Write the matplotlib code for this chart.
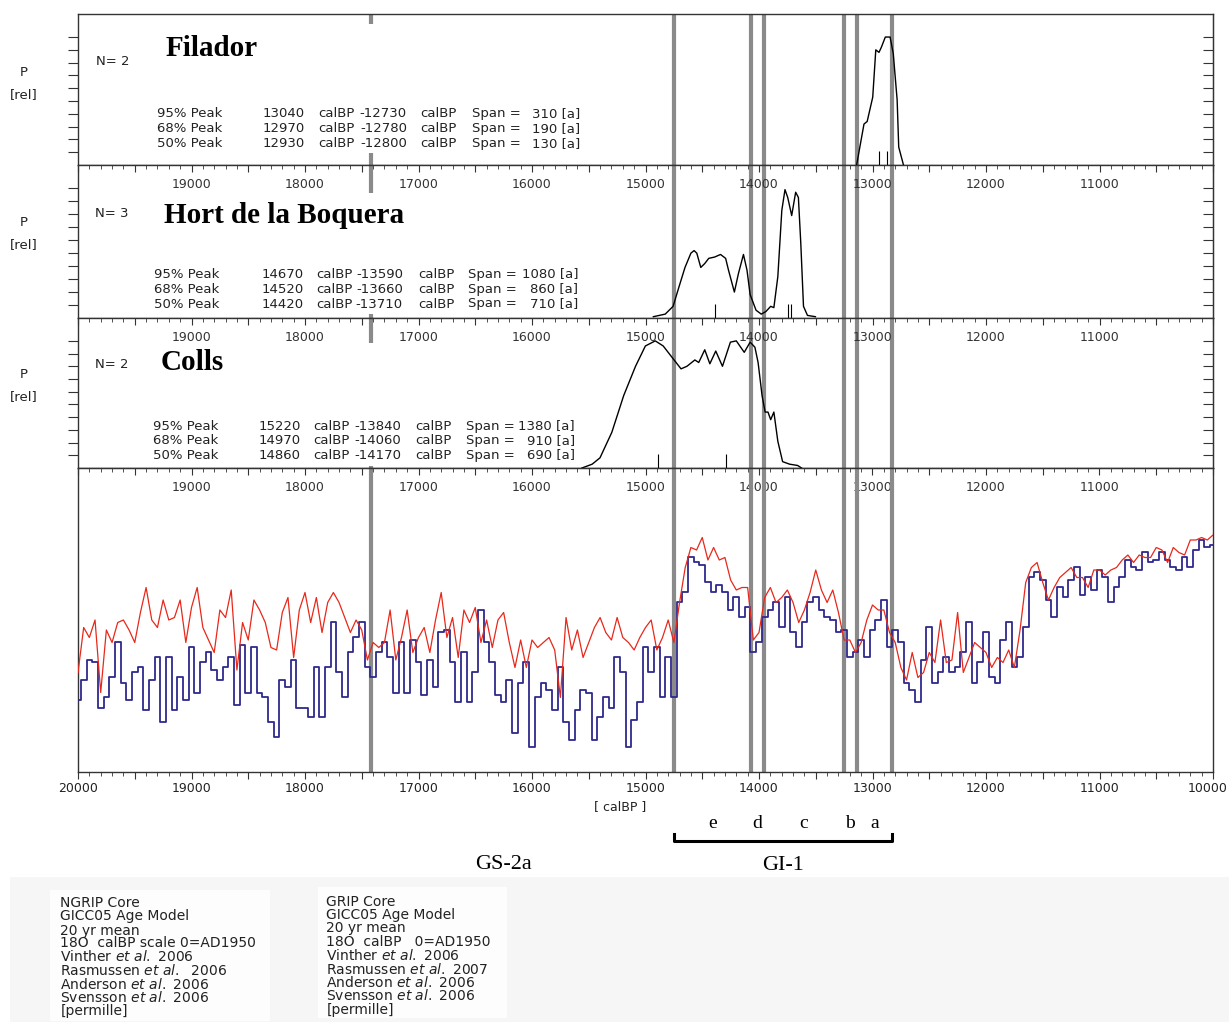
import numpy as np
import matplotlib
matplotlib.use("Agg")
import matplotlib.pyplot as plt
from matplotlib.ticker import MultipleLocator, FuncFormatter
from matplotlib.patches import Rectangle

plt.rcParams['font.family'] = ['DejaVu Sans']
plt.rcParams['mathtext.fontset'] = 'dejavusans'

# event boundaries [calBP] (grey lines) and GI-1 sub-events
event_years = [17420, 14750, 14070, 13960, 13255, 13140, 12825]
gi1_letters = ["e", "d", "c", "b", "a"]

# summed calibrated probability curves
filador_years = [13140, 13075, 13047, 12998, 12971, 12943, 12922, 12887, 12845, 12817, 12783, 12769, 12727]
filador_p = [0.0, 0.32, 0.34, 0.53, 0.90, 0.88, 0.92, 1.0, 1.0, 0.87, 0.51, 0.14, 0.0]
filador_dates = [12943, 12873]

boq_years = [14931, 14826, 14757, 14705, 14652, 14600, 14572, 14548, 14513, 14478, 14443, 14391,
             14339, 14294, 14269, 14217, 14182, 14137, 14106, 14078, 14026, 13980, 13939, 13897,
             13869, 13834, 13799, 13771, 13747, 13712, 13677, 13653, 13632, 13608, 13573, 13503]
boq_p = [0.01, 0.03, 0.09, 0.24, 0.39, 0.50, 0.52, 0.50, 0.39, 0.42, 0.46, 0.47,
         0.49, 0.46, 0.37, 0.20, 0.34, 0.49, 0.37, 0.18, 0.06, 0.03, 0.05, 0.09,
         0.08, 0.32, 0.83, 0.99, 0.93, 0.79, 0.97, 0.93, 0.58, 0.09, 0.02, 0.01]
boq_dates = [14391, 13747, 13719]

colls_years = [15560, 15470, 15401, 15297, 15192, 15088, 15001, 14914, 14844, 14757, 14687, 14635,
               14565, 14531, 14478, 14433, 14381, 14322, 14252, 14200, 14130, 14078, 14036, 14008,
               13973, 13946, 13921, 13897, 13869, 13834, 13792, 13730, 13660, 13625]
colls_p = [0.0, 0.03, 0.08, 0.28, 0.57, 0.80, 0.96, 1.0, 0.96, 0.86, 0.78, 0.80,
           0.85, 0.83, 0.93, 0.82, 0.92, 0.80, 0.99, 1.0, 0.91, 0.99, 0.95, 0.83,
           0.57, 0.44, 0.44, 0.38, 0.44, 0.21, 0.05, 0.03, 0.02, 0.0]
colls_dates = [14886, 14294]

peak_levels = ["95%", "68%", "50%"]
filador_from = [13040, 12970, 12930]
filador_to = [12730, 12780, 12800]
filador_span = [310, 190, 130]
boq_from = [14670, 14520, 14420]
boq_to = [13590, 13660, 13710]
boq_span = [1080, 860, 710]
colls_from = [15220, 14970, 14860]
colls_to = [13840, 14060, 14170]
colls_span = [1380, 910, 690]

# ice core d18O, 50 yr steps from 20000 to 10000 calBP
years = np.arange(20000, 9999, -50)
ngrip_d18o = [
    -41.9, -41.1, -40.3, -40.4, -42.2, -41.8, -41.0, -39.6, -41.2, -41.9,
    -40.8, -40.6, -42.3, -41.1, -40.2, -42.8, -40.2, -42.3, -41.0, -41.9,
    -39.8, -41.6, -40.4, -40.0, -40.7, -41.1, -40.6, -40.2, -42.1, -39.7,
    -41.6, -39.8, -41.6, -41.8, -42.8, -43.4, -41.1, -41.4, -40.3, -42.2,
    -42.2, -42.6, -40.6, -42.6, -40.6, -38.8, -40.8, -41.8, -40.0, -39.4,
    -38.8, -40.6, -41.0, -40.0, -39.6, -40.2, -41.6, -39.6, -41.6, -39.5,
    -40.4, -41.7, -40.3, -41.4, -39.2, -39.1, -40.4, -42.0, -40.0, -42.0,
    -40.8, -38.3, -39.6, -40.4, -41.7, -42.0, -41.1, -43.2, -41.2, -40.4,
    -43.8, -41.8, -41.2, -41.5, -42.3, -40.6, -42.8, -43.5, -42.3, -41.5,
    -41.6, -43.5, -42.6, -41.8, -42.2, -40.2, -40.8, -43.8, -42.7, -42.0,
    -39.8,
    -40.8, -39.8, -41.8, -40.2, -41.8, -38.0, -37.6, -36.2, -36.4, -36.5,
    -37.2, -37.6, -37.3, -37.6, -38.3, -37.8, -38.6, -38.2, -40.0, -39.6,
    -38.6, -38.3, -38.0, -39.0, -37.8, -39.2, -39.8, -38.8, -38.0, -37.8,
    -38.3, -38.6, -38.7, -39.2, -39.1, -40.2, -40.0, -39.5, -40.2, -39.1,
    -38.7, -37.9, -39.8, -39.1, -39.6, -41.2, -41.5, -42.0, -40.3, -39.0,
    -41.2, -40.8, -40.2, -40.8, -40.6, -40.0, -38.8, -41.2, -40.4, -39.2,
    -41.0, -41.2, -39.5, -38.8, -40.6, -40.2, -39.0, -37.0, -36.8, -37.1,
    -37.9, -38.6, -37.4, -37.8, -37.1, -36.6, -37.7, -37.0, -37.5, -36.7,
    -37.0, -38.0, -37.4, -37.0, -36.3, -36.6, -36.7, -36.0, -36.4, -36.3,
    -36.0, -36.3, -36.6, -36.7, -36.2, -36.6, -35.9, -35.5, -35.8, -35.7]
grip_d18o = [
    -40.8, -39.0, -39.4, -38.7, -41.6, -39.1, -39.6, -38.8, -38.7, -39.1,
    -39.6, -38.4, -37.4, -38.7, -39.0, -37.9, -38.7, -38.6, -37.9, -39.6,
    -38.2, -37.4, -39.0, -39.5, -40.0, -38.3, -38.6, -37.5, -40.7, -38.8,
    -39.5, -37.9, -38.3, -38.8, -39.8, -39.9, -38.4, -37.8, -40.2, -38.3,
    -37.6, -38.8, -37.8, -39.2, -38.0, -37.6, -38.0, -38.6, -39.2, -38.7,
    -39.1, -40.3, -39.6, -39.8, -39.6, -38.3, -40.3, -39.4, -38.3, -40.0,
    -39.4, -39.0, -40.0, -38.7, -37.6, -39.4, -38.6, -40.2, -38.3, -38.8,
    -38.2, -39.6, -38.7, -39.8, -38.7, -38.4, -39.6, -40.6, -39.5, -40.6,
    -39.5, -39.8, -39.6, -39.4, -39.9, -41.8, -38.6, -39.9, -39.1, -40.2,
    -39.6, -39.0, -38.6, -39.2, -39.5, -38.6, -39.4, -39.6, -39.9, -39.4,
    -39.0,
    -38.7, -39.9, -39.4, -38.7, -39.6, -38.0, -36.6, -35.8, -35.9, -35.4,
    -36.3, -35.8, -36.3, -36.2, -37.1, -37.5, -37.4, -37.4, -39.5, -39.2,
    -37.8, -37.4, -38.0, -37.8, -37.5, -38.0, -38.8, -38.3, -37.6, -36.7,
    -37.5, -38.0, -37.5, -38.4, -39.5, -39.5, -40.0, -39.6, -38.7, -38.1,
    -38.3, -38.3, -39.2, -39.6, -40.6, -41.1, -40.0, -41.0, -40.8, -40.0,
    -40.4, -38.7, -40.4, -40.3, -38.4, -40.8, -40.2, -39.6, -39.8, -40.0,
    -40.6, -40.2, -40.4, -39.9, -40.6, -39.1, -37.2, -36.6, -36.4, -37.2,
    -37.9, -37.4, -37.0, -36.8, -36.6, -37.0, -37.0, -37.4, -36.7, -36.7,
    -36.9, -36.7, -36.6, -36.3, -36.1, -36.4, -36.1, -36.2, -36.2, -35.8,
    -35.9, -36.4, -35.8, -36.0, -36.1, -35.5, -35.5, -35.4, -35.5, -35.3]

ngrip_lines = ["NGRIP Core", "GICC05 Age Model", "20 yr mean", "18O  calBP scale 0=AD1950",
               r"Vinther $\mathit{et\ al.}$ 2006", r"Rasmussen $\mathit{et\ al.}$  2006",
               r"Anderson $\mathit{et\ al.}$ 2006", r"Svensson $\mathit{et\ al.}$ 2006", "[permille]"]
grip_lines = ["GRIP Core", "GICC05 Age Model", "20 yr mean", "18O  calBP   0=AD1950",
              r"Vinther $\mathit{et\ al.}$ 2006", r"Rasmussen $\mathit{et\ al.}$ 2007",
              r"Anderson $\mathit{et\ al.}$ 2006", r"Svensson $\mathit{et\ al.}$ 2006", "[permille]"]

W, H = 1229, 1022
def fx(px):
    return px / W
def fy(py):
    return 1 - py / H

fig = plt.figure(figsize=(W / 100, H / 100), dpi=100)

# light grey strip with the two legend boxes at the bottom
fig.add_artist(Rectangle((fx(10), 0), fx(1219), (H - 877) / H, transform=fig.transFigure,
                         facecolor='#f6f6f6', edgecolor='none', zorder=0))
for x0, y0, x1, y1 in [(50, 890, 270, 1021), (318, 887, 507, 1018)]:
    fig.add_artist(Rectangle((fx(x0), fy(y1)), fx(x1 - x0), (y1 - y0) / H, transform=fig.transFigure,
                             facecolor='#fdfdfd', edgecolor='none', zorder=0.5))

def panel(top, bottom):
    ax = fig.add_axes([fx(78), fy(bottom), fx(1213 - 78), (bottom - top) / H])
    ax.set_xlim(20000, 10000)
    for s in ax.spines.values():
        s.set_color('#333333')
        s.set_linewidth(1.0)
    return ax

inner_fmt = FuncFormatter(lambda v, p: f"{v:.0f}" if (v % 1000 == 0 and 10000 < v < 20000) else "")
full_fmt = FuncFormatter(lambda v, p: f"{v:.0f}" if (v % 1000 == 0 and v > 10000) else "")

ax1 = panel(14, 165)
ax2 = panel(165, 318)
ax3 = panel(318, 468)
ax4 = panel(468, 772)

sites = [
    (ax1, filador_years, filador_p, filador_dates, (0.08, 0.934)),
    (ax2, boq_years, boq_p, boq_dates, (0.026, 0.817)),
    (ax3, colls_years, colls_p, colls_dates, (0.013, 0.833)),
]
for ax, yrs, p, dates, (m0, m1) in sites:
    ax.set_ylim(0, 1.18)
    ax.plot(yrs, p, color='black', lw=1.0, zorder=3)
    ax.vlines(dates, 0, 0.11, color='black', lw=0.8, zorder=3)
    for ey in event_years:
        ax.axvline(ey, color='#8a8a8a', lw=3, zorder=1.5)
    ax.add_patch(Rectangle((0.05, m0), 0.35, m1 - m0, transform=ax.transAxes,
                           facecolor='white', edgecolor='none', zorder=2))
    ax.set_yticks(np.arange(0.1, 1.01, 0.1))
    ax.tick_params(axis='y', left=True, right=False, labelleft=False, direction='out',
                   length=7, color='#333333')
    sec = ax.secondary_yaxis('right')
    sec.set_yticks(np.arange(0.1, 1.01, 0.1))
    sec.tick_params(axis='y', direction='in', length=7, labelright=False, color='#333333')
    sec.spines['right'].set_color('#333333')

ax1.tick_params(axis='x', which='both', bottom=False, top=False, labelbottom=False, labeltop=False)
for ax in (ax2, ax3):
    ax.xaxis.set_major_locator(MultipleLocator(500))
    ax.xaxis.set_minor_locator(MultipleLocator(100))
    ax.xaxis.set_major_formatter(inner_fmt)
    ax.tick_params(axis='x', which='both', bottom=False, top=True, labelbottom=False,
                   labeltop=True, direction='in', color='#333333')
    ax.tick_params(axis='x', which='major', length=5, pad=-19, labelsize=9, labelcolor='#333333')
    ax.tick_params(axis='x', which='minor', length=2.7)

# ice core panel
ax4.set_ylim(-44.78, -32.62)
ax4.set_yticks([])
for ey in event_years:
    ax4.axvline(ey, color='#8a8a8a', lw=3, zorder=1.5)
ax4.plot(years, ngrip_d18o, drawstyle='steps-mid', color='#2e2a8c', lw=1.3, zorder=2.6)
ax4.plot(years, grip_d18o, color='#e8281a', lw=0.9, zorder=2.8)
ax4.xaxis.set_major_locator(MultipleLocator(500))
ax4.xaxis.set_minor_locator(MultipleLocator(100))
ax4.xaxis.set_major_formatter(full_fmt)
ax4.tick_params(axis='x', which='both', bottom=True, top=False, direction='out', color='#333333')
ax4.tick_params(axis='x', which='major', length=5, pad=2, labelsize=9, labelcolor='#222222')
ax4.tick_params(axis='x', which='minor', length=2.7)
top4 = ax4.secondary_xaxis('top')
top4.xaxis.set_major_locator(MultipleLocator(500))
top4.xaxis.set_minor_locator(MultipleLocator(100))
top4.xaxis.set_major_formatter(inner_fmt)
top4.tick_params(axis='x', which='both', direction='in', color='#333333')
top4.tick_params(axis='x', which='major', length=5, pad=-19, labelsize=9, labelcolor='#333333')
top4.tick_params(axis='x', which='minor', length=2.7)
top4.spines['top'].set_color('#333333')

# last tick label sits at the figure edge, so it is right-aligned to stay inside
fig.text(fx(1228), fy(781.5), f"{ax4.get_xlim()[1]:.0f}", ha='right', va='top', fontsize=9,
         color='#222222')

ax4.text(0.478, -0.112, "[ calBP ]", transform=ax4.transAxes, ha='center', va='center', fontsize=9,
         color='#222222')

# GI-1 bracket and sub-event letters
xt = ax4.get_xaxis_transform()
ax4.plot([event_years[1], event_years[1], event_years[-1], event_years[-1]],
         [-0.204, -0.227, -0.227, -0.204], transform=xt, clip_on=False, color='black', lw=2.2)
for i, letter in enumerate(gi1_letters):
    mid = (event_years[i + 1] + event_years[i + 2]) / 2
    ax4.text(mid, -0.171, letter, transform=xt, ha='center', va='center',
             family='Liberation Serif', fontsize=14)
ax4.text((event_years[1] + event_years[-1]) / 2, -0.309, "GI-1", transform=xt, ha='center',
         va='center', family='Liberation Serif', fontsize=16)
ax4.text(16250, -0.303, "GS-2a", transform=xt, ha='center', va='center',
         family='Liberation Serif', fontsize=16)

# panel annotations
def ftext(x, y, s, **kw):
    kw.setdefault('fontsize', 9.5)
    kw.setdefault('color', '#222222')
    fig.text(fx(x), fy(y), s, **kw)

titles = [("Filador", 166, 56, "N= 2", 96, 65), ("Hort de la Boquera", 164, 223, "N= 3", 95, 217),
          ("Colls", 161, 370, "N= 2", 95, 368)]
for name, tx, ty, ntxt, nx, ny in titles:
    ftext(tx, ty, name, family='Liberation Serif', weight='bold', fontsize=21, color='black',
          va='baseline')
    ftext(nx, ny, ntxt, va='baseline')

for py, ry in [(72, 95), (223, 245), (375, 397)]:
    ftext(24, py, "P", ha='center', va='center')
    ftext(24, ry, "[rel]", ha='center', va='center')

def draw_stats(rows, cols, frm, to, span):
    for i in range(3):
        y = rows[i]
        ftext(cols[0], y, f"{peak_levels[i]} Peak", va='baseline')
        ftext(cols[1], y, f"{frm[i]}", va='baseline')
        ftext(cols[2], y, "calBP", va='baseline')
        ftext(cols[3], y, f"-{to[i]}", va='baseline', ha='right')
        ftext(cols[4], y, "calBP", va='baseline')
        ftext(cols[5], y, "Span =", va='baseline')
        ftext(cols[6], y, f"{span[i]} [a]", va='baseline', ha='right')

draw_stats([117, 132, 147], [157, 263, 318, 407, 420, 472, 580], filador_from, filador_to, filador_span)
draw_stats([277.5, 292.5, 307.5], [154, 262, 316, 403, 418, 468, 578], boq_from, boq_to, boq_span)
draw_stats([429.5, 444, 458.5], [153, 259, 313, 401, 415, 466, 575], colls_from, colls_to, colls_span)

# legend text boxes
ngrip_y = [902.7, 915.7, 930, 942.7, 956.7, 970, 984, 997.3, 1010.7]
grip_y = [901, 914, 927.7, 941.7, 955, 969, 982, 995.7, 1009.3]
for s, y in zip(ngrip_lines, ngrip_y):
    ftext(60.5, y + 4.5, s, va='baseline', fontsize=10)
for s, y in zip(grip_lines, grip_y):
    ftext(326.5, y + 4.5, s, va='baseline', fontsize=10)

fig.savefig("out.png", dpi=100)
